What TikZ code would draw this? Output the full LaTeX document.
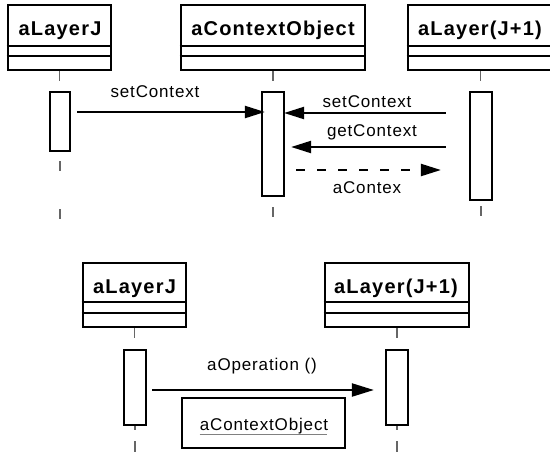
\documentclass[tikz,border=0pt]{standalone}
\usepackage{fontspec}
\setmainfont{Liberation Sans}
\newfontfamily\hdrfont[LetterSpace=6]{Liberation Sans}
\newfontfamily\lblfont[LetterSpace=5]{Liberation Sans}
\usetikzlibrary{arrows.meta,calc}
\tikzset{
  objbox/.style={draw, line width=2.6pt, fill=white, inner sep=0pt},
  compline/.style={line width=2.4pt},
  actbox/.style={draw, line width=2.2pt, fill=white, inner sep=0pt},
  life/.style={draw=black!60, line width=1.7pt},
  msg/.style={line width=2.2pt, -{Triangle[length=20pt,width=12pt]}},
  ret/.style={msg, dash pattern=on 9pt off 12pt},
  hdr/.style={font=\hdrfont\bfseries\fontsize{20}{22}\selectfont, anchor=base, inner sep=0pt},
  lbl/.style={font=\lblfont\fontsize{17}{19}\selectfont, anchor=base, inner sep=0pt},
}
\begin{document}
\begin{tikzpicture}[x=1pt,y=-1pt]
\useasboundingbox (0,0) rectangle (550,451);
\clip (0,0) rectangle (550,451);
\fill[white] (0,0) rectangle (550,451);

% ---------- top row: objects ----------
\node[objbox, minimum width=103pt, minimum height=65pt] (LJ) at (59.5,37.5) {};
\node[objbox, minimum width=184pt, minimum height=65pt] (CO) at (273,37.5) {};
\node[objbox, minimum width=145pt, minimum height=65pt] (LR) at (480.5,37.5) {};
\foreach \b in {LJ,CO,LR}{
  \draw[compline] ($(\b.north west)+(0,42)$) -- ($(\b.north east)+(0,42)$);
  \draw[compline] ($(\b.north west)+(0,52)$) -- ($(\b.north east)+(0,52)$);
}
\node[hdr] (LJt) at (60,35.5) {aLayerJ};
\node[hdr] (COt) at (273,35.5) {aContextObject};
\node[hdr] (LRt) at (480,35.5) {aLayer(J+1)};

% activations
\node[actbox, minimum width=20pt, minimum height=59pt] (aJ) at (60,121.5) {};
\node[actbox, minimum width=22pt, minimum height=104pt] (aC) at (273,144) {};
\node[actbox, minimum width=22pt, minimum height=108pt] (aR) at (481,146) {};

% lifelines
\draw[life] (LJ.south) -- ++(0,10);
\draw[life] ([yshift=-9pt]aJ.south) -- ++(0,10) ++(0,38) -- ++(0,10);
\draw[life] (CO.south) -- ++(0,10);
\draw[life] ([yshift=-10pt]aC.south) -- ++(0,10);
\draw[life] (LR.south) -- ++(0,10);
\draw[life] ([yshift=-5pt]aR.south) -- ++(0,10);

% messages
\draw[msg, shorten <=6pt, shorten >=-4pt] (aJ.east |- 0,112) -- (aC.west |- 0,112);
\node[lbl] (m1) at (155,97) {setContext};
\draw[msg, shorten <=23pt, shorten >=-1pt] (aR.west |- 0,113) -- (aC.east |- 0,113);
\node[lbl] (m2) at (367,107) {setContext};
\draw[msg, shorten <=23pt, shorten >=6pt] (aR.west |- 0,147) -- (aC.east |- 0,147);
\node[lbl] (m3) at (372,136) {getContext};
\draw[ret, shorten <=11pt, shorten >=28pt] (aC.east |- 0,170) -- (aR.west |- 0,170);
\node[lbl] (m4) at (367,193) {aContex};

% ---------- bottom row ----------
\node[objbox, minimum width=103pt, minimum height=64pt] (BJ) at (134.5,295) {};
\node[objbox, minimum width=144pt, minimum height=64pt] (BR) at (397,295) {};
\foreach \b in {BJ,BR}{
  \draw[compline] ($(\b.north west)+(0,40)$) -- ($(\b.north east)+(0,40)$);
  \draw[compline] ($(\b.north west)+(0,51)$) -- ($(\b.north east)+(0,51)$);
}
\node[hdr] (BJt) at (134.5,293.5) {aLayerJ};
\node[hdr] (BRt) at (396,293.5) {aLayer(J+1)};

\node[actbox, minimum width=22pt, minimum height=75pt] (bJ) at (135,387.5) {};
\node[actbox, minimum width=22pt, minimum height=75pt] (bR) at (397,387.5) {};

\draw[life] (BJ.south) -- ++(0,10);
\draw[life] (bJ.south) -- ++(0,4) ++(0,11) -- ++(0,13);
\draw[life] (BR.south) -- ++(0,10);
\draw[life] (bR.south) -- ++(0,4) ++(0,11) -- ++(0,13);

\draw[msg, -{Triangle[length=22pt,width=13pt]}, shorten <=5pt, shorten >=11pt] (bJ.east |- 0,390) -- (bR.west |- 0,390);
\node[lbl] (op) at (262,370) {aOperation ()};

\node[draw, line width=2.2pt, minimum width=163pt, minimum height=50pt, inner sep=0pt] (ctx) at (263.5,423) {};
\node[lbl] (ctxt) at (264,430) {aContextObject};
\draw[black!50, line width=1.8pt] ([yshift=-4.5pt]ctxt.base west) -- ([yshift=-4.5pt, xshift=-1pt]ctxt.base east);
\end{tikzpicture}
\end{document}
